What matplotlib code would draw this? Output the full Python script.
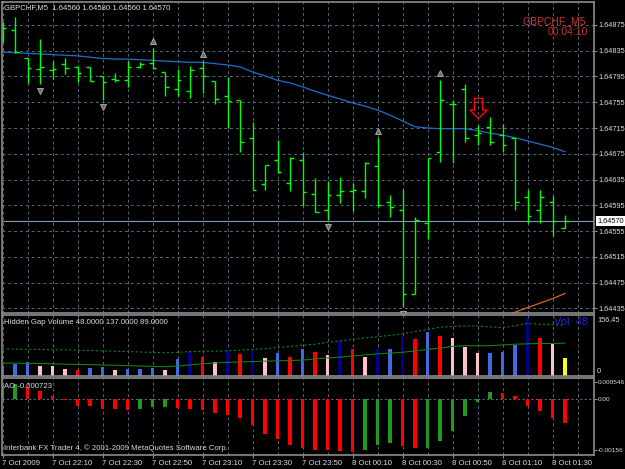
import numpy as np
import matplotlib
matplotlib.use("Agg")
import matplotlib.pyplot as plt
from matplotlib.path import Path
from matplotlib.transforms import offset_copy

# --- GBPCHF M5 bars, 7 Oct 2009 21:50 .. 8 Oct 2009 01:35 ---
opens = [1.64855, 1.64867, 1.64823, 1.64806, 1.64805, 1.64814, 1.64810, 1.64809, 1.64795, 1.64791,
         1.64789, 1.64810, 1.64816, 1.64802, 1.64775, 1.64772, 1.64808, 1.64788, 1.64764, 1.64758,
         1.64699, 1.64628, 1.64665, 1.64630, 1.64666, 1.64612, 1.64588, 1.64611, 1.64617, 1.64617,
         1.64656, 1.64600, 1.64588, 1.64457, 1.64568, 1.64678, 1.64752, 1.64775, 1.64704, 1.64716,
         1.64704, 1.64699, 1.64608, 1.64588, 1.64600, 1.64560]
highs = [1.64880, 1.64887, 1.64823, 1.64854, 1.64819, 1.64823, 1.64811, 1.64809, 1.64795, 1.64801,
         1.64819, 1.64818, 1.64839, 1.64802, 1.64807, 1.64811, 1.64819, 1.64788, 1.64794, 1.64758,
         1.64724, 1.64658, 1.64696, 1.64670, 1.64678, 1.64638, 1.64632, 1.64639, 1.64629, 1.64662,
         1.64700, 1.64611, 1.64621, 1.64577, 1.64669, 1.64789, 1.64759, 1.64783, 1.64720, 1.64732,
         1.64722, 1.64699, 1.64618, 1.64618, 1.64609, 1.64580]
lows = [1.64849, 1.64832, 1.64785, 1.64783, 1.64791, 1.64799, 1.64787, 1.64788, 1.64758, 1.64786,
        1.64778, 1.64808, 1.64807, 1.64764, 1.64764, 1.64762, 1.64770, 1.64752, 1.64715, 1.64678,
        1.64618, 1.64618, 1.64645, 1.64617, 1.64594, 1.64584, 1.64572, 1.64599, 1.64586, 1.64606,
        1.64592, 1.64577, 1.64437, 1.64457, 1.64542, 1.64662, 1.64660, 1.64694, 1.64688, 1.64688,
        1.64678, 1.64588, 1.64568, 1.64568, 1.64547, 1.64560]
closes = [1.64870, 1.64833, 1.64808, 1.64809, 1.64806, 1.64808, 1.64801, 1.64788, 1.64787, 1.64789,
          1.64810, 1.64815, 1.64808, 1.64778, 1.64789, 1.64805, 1.64795, 1.64760, 1.64757, 1.64694,
          1.64619, 1.64658, 1.64646, 1.64669, 1.64616, 1.64585, 1.64611, 1.64617, 1.64619, 1.64660,
          1.64595, 1.64593, 1.64457, 1.64572, 1.64669, 1.64759, 1.64753, 1.64700, 1.64708, 1.64694,
          1.64689, 1.64600, 1.64578, 1.64608, 1.64570, 1.64570]

# moving averages on the price chart
ma_blue = [1.64833, 1.64832, 1.64831, 1.64830, 1.64829, 1.64828, 1.64827, 1.64825, 1.64823, 1.64822,
           1.64822, 1.64821, 1.64820, 1.64819, 1.64818, 1.64817, 1.64817, 1.64815, 1.64813, 1.64810,
           1.64802, 1.64796, 1.64789, 1.64785, 1.64779, 1.64772, 1.64766, 1.64760, 1.64754, 1.64749,
           1.64743, 1.64735, 1.64726, 1.64717, 1.64715, 1.64714, 1.64714, 1.64714, 1.64711, 1.64707,
           1.64704, 1.64700, 1.64695, 1.64690, 1.64685, 1.64678]
ma_orange_first_bar = 40
ma_orange = [1.64422, 1.64429, 1.64436, 1.64443, 1.64450, 1.64458]

# fractals and signal arrow (bar numbers)
up_fractals = [12, 16, 30, 35]
down_fractals = [3, 8, 26, 32]
sell_signal_bar = 38

# Hidden Gap Volume window
volumes = [27, 33, 37, 28, 28, 18, 16, 21, 25, 15,
           19, 19, 22, 15, 46, 64, 51, 37, 70, 60,
           70, 48, 62, 51, 72, 66, 57, 95, 72, 51,
           72, 72, 109, 100, 118, 108, 102, 79, 62, 63,
           66, 84, 156, 102, 86, 48]
vol_colors = ['blue', 'blue', 'blue', 'pink', 'pink', 'pink', 'red', 'blue', 'blue', 'pink',
              'blue', 'blue', 'blue', 'pink', 'blue', 'navy', 'red', 'pink', 'navy', 'red',
              'navy', 'pink', 'blue', 'red', 'blue', 'red', 'pink', 'navy', 'red', 'pink',
              'navy', 'blue', 'navy', 'red', 'blue', 'red', 'pink', 'pink', 'pink', 'blue',
              'blue', 'blue', 'navy', 'red', 'pink', 'yellow']
vol_ma_fast = [73, 73, 72, 72, 71, 71, 70, 69, 68, 67,
               66, 65, 64, 63, 64, 66, 67, 67, 68, 70,
               72, 74, 77, 80, 83, 86, 91, 95, 99, 103,
               106, 110, 114, 120, 126, 132, 134, 135, 135, 133,
               131, 136, 142, 140, 139, 137]
vol_ma_slow = [35, 35, 34, 34, 33, 32, 31, 31, 30, 29,
               28, 27, 26, 25, 27, 30, 33, 35, 37, 38,
               39, 40, 41, 42, 43, 46, 49, 51, 54, 57,
               60, 62, 64, 68, 72, 75, 80, 82, 82, 82,
               84, 86, 87, 88, 88, 89]
vol_scale_max = 156.45

# Awesome Oscillator window
ao_values = [0.00043, 0.00047, 0.00037, 0.00024, 0.00010, -0.00003, -0.00020, -0.00021, -0.00030, -0.00031,
             -0.00033, -0.00030, -0.00025, -0.00023, -0.00026, -0.00030, -0.00032, -0.00041, -0.00048, -0.00057,
             -0.00079, -0.00108, -0.00123, -0.00141, -0.00151, -0.00156, -0.00157, -0.00160, -0.00162, -0.00156,
             -0.00140, -0.00133, -0.00144, -0.00151, -0.00149, -0.00127, -0.00097, -0.00050, -0.00007, 0.00021,
             0.00020, 0.00010, -0.00021, -0.00036, -0.00057, -0.000723]
ao_ticks = [0.000546, 0.0, -0.00156]
ao_tick_labels = ['0.000546', '0.00', '-0.00156']

# axis labels
price_levels = [1.64875, 1.64835, 1.64795, 1.64755, 1.64715, 1.64675,
                1.64635, 1.64595, 1.64555, 1.64515, 1.64475, 1.64435]
time_label_bars = [0, 4, 8, 12, 16, 20, 24, 28, 32, 36, 40, 44]
time_labels = ['7 Oct 2009', '7 Oct 22:10', '7 Oct 22:30', '7 Oct 22:50', '7 Oct 23:10', '7 Oct 23:30',
               '7 Oct 23:50', '8 Oct 00:10', '8 Oct 00:30', '8 Oct 00:50', '8 Oct 01:10', '8 Oct 01:30']

# --- style ---
BG = 'black'
FG = '#dcdcdc'
GRID = '#56687a'
BORDER = '#8c8c8c'
BAR_GREEN = '#00ff00'
VOL_PALETTE = {'blue': '#4169e1', 'navy': '#00008b', 'red': '#ff0000',
               'pink': '#ffc0cb', 'yellow': '#ffff00'}
FS = 5.6        # window texts
FS_SCALE = 5.3  # right price scale
W, H = 625, 469

plt.rcParams['font.family'] = ['Liberation Sans', 'DejaVu Sans']

fig = plt.figure(figsize=(W / 100, H / 100), dpi=100, facecolor=BG)


def px_axes(x0, y0, x1, y1):
    # place an axes by pixel box (top-left origin)
    return fig.add_axes([x0 / W, 1 - y1 / H, (x1 - x0) / W, (y1 - y0) / H])


ax = px_axes(2, 2, 594, 313)
ax_vol = px_axes(2, 315, 594, 376)
ax_ao = px_axes(2, 378, 594, 455)

n = len(closes)
idx = np.arange(n)

for a in (ax, ax_vol, ax_ao):
    a.set_facecolor(BG)
    a.set_xlim(-0.04, 47.32)
    for s in a.spines.values():
        s.set_color(BORDER)
        s.set_linewidth(1.2)
    a.tick_params(colors=BORDER, labelcolor=FG, labelsize=FS_SCALE, length=2, width=0.8, pad=1)
    a.tick_params(axis='y', left=False, labelleft=False, right=True, labelright=True)
    a.tick_params(axis='x', bottom=False, labelbottom=False)
    for g in range(0, 48, 2):
        a.axvline(g, color=GRID, ls=(0, (3, 3)), lw=0.7, zorder=0)

# --- price chart ---
ax.set_ylim(1.644277, 1.649107)
for p in price_levels:
    ax.axhline(p, color=GRID, ls=(0, (3, 3)), lw=0.7, zorder=0)
ax.set_yticks(price_levels)
ax.set_yticklabels([f'{p:.5f}' for p in price_levels])

ax.axhline(closes[-1], color='#7d9cba', lw=0.8, zorder=1)
ax.plot(idx, ma_blue, color='#1f6fcf', lw=0.9, zorder=2)
ax.plot(idx[ma_orange_first_bar:], ma_orange, color='#d2691e', lw=0.9, zorder=2)

tick = 0.3
ax.vlines(idx, lows, highs, colors=BAR_GREEN, lw=1.0, zorder=3)
ax.hlines(opens, idx - tick, idx, colors=BAR_GREEN, lw=1.0, zorder=3)
ax.hlines(closes, idx, idx + tick, colors=BAR_GREEN, lw=1.0, zorder=3)

up_tr = offset_copy(ax.transData, fig=fig, y=5, units='points')
dn_tr = offset_copy(ax.transData, fig=fig, y=-5, units='points')
ax.plot(up_fractals, [highs[i] for i in up_fractals], ls='none', marker='^', ms=5,
        mfc='#6a6a6a', mec='#b4b4b4', mew=0.6, transform=up_tr, zorder=4)
ax.plot(down_fractals, [lows[i] for i in down_fractals], ls='none', marker='v', ms=5,
        mfc='#6a6a6a', mec='#b4b4b4', mew=0.6, transform=dn_tr, zorder=4, clip_on=False)

arrow_verts = [(-0.4, 1), (0.4, 1), (0.4, -0.15), (0.85, -0.15), (0, -1),
               (-0.85, -0.15), (-0.4, -0.15), (-0.4, 1)]
arrow_codes = [Path.MOVETO] + [Path.LINETO] * 6 + [Path.CLOSEPOLY]
arrow_marker = Path(arrow_verts, arrow_codes)
sig_tr = offset_copy(ax.transData, fig=fig, y=12, units='points')
ax.plot([sell_signal_bar], [highs[sell_signal_bar]], ls='none', marker=arrow_marker, ms=14.5,
        mfc='none', mec='red', mew=1.0, transform=sig_tr, zorder=5)

ax.annotate(f'GBPCHF,M5  {opens[-1]:.5f} {highs[-1]:.5f} {lows[-1]:.5f} {closes[-1]:.5f}',
            xy=(0, 1), xycoords='axes fraction', xytext=(2, -6), textcoords='offset pixels',
            ha='left', va='center', fontsize=FS, color=FG)
ax.annotate('GBPCHF_M5', xy=(1, 1), xycoords='axes fraction', xytext=(-8, -18.7),
            textcoords='offset pixels', ha='right', va='center', fontsize=7.5, color='#c8342a')
ax.annotate('00:04:10', xy=(1, 1), xycoords='axes fraction', xytext=(-6, -30.3),
            textcoords='offset pixels', ha='right', va='center', fontsize=7.5, color='#c8342a')
ax.annotate(f'{closes[-1]:.5f}', xy=(1, closes[-1]), xycoords=('axes fraction', 'data'),
            xytext=(3, 0), textcoords='offset pixels', ha='left', va='center', fontsize=FS_SCALE,
            color='black', annotation_clip=False,
            bbox=dict(boxstyle='square,pad=0.2', fc='white', ec='none'))

# --- volume window ---
ax_vol.set_ylim(0, 165)
ax_vol.set_yticks([])
ax_vol.bar(idx, volumes, width=0.3, color=[VOL_PALETTE[c] for c in vol_colors], zorder=2)
ax_vol.plot(idx, vol_ma_fast, color='#138013', ls=(0, (2, 2)), lw=0.8, zorder=3)
ax_vol.plot(idx, vol_ma_slow, color='#138013', lw=0.8, zorder=3)
ax_vol.annotate(f'Hidden Gap Volume {volumes[-1]:.4f} {vol_ma_fast[-1]:.4f} {vol_ma_slow[-1]:.4f}',
                xy=(0, 1), xycoords='axes fraction', xytext=(2, -7.7), textcoords='offset pixels',
                ha='left', va='center', fontsize=FS, color=FG)
ax_vol.annotate(f'Vol  {volumes[-1]}', xy=(1, 1), xycoords='axes fraction', xytext=(-6, -7),
                textcoords='offset pixels', ha='right', va='center', fontsize=8, color='#2424d8')
ax_vol.annotate(f'{vol_scale_max:.2f}', xy=(1, 1), xycoords='axes fraction', xytext=(3, -5),
                textcoords='offset pixels', ha='left', va='center', fontsize=FS_SCALE, color=FG,
                annotation_clip=False)
ax_vol.annotate('0', xy=(1, 0), xycoords='axes fraction', xytext=(3, 4.3),
                textcoords='offset pixels', ha='left', va='center', fontsize=FS_SCALE, color=FG,
                annotation_clip=False)

# --- AO window ---
ao = np.array(ao_values)
ao_rising = np.concatenate([[True], np.diff(ao) > 0])
ao_colors = np.where(ao_rising, '#1f9a1f', '#ff0000')
ax_ao.set_ylim(-0.001714, 0.000655)
ax_ao.axhline(0, color=GRID, ls=(0, (2, 2)), lw=0.8, zorder=1)
ax_ao.bar(idx, ao, width=0.25, color=ao_colors, zorder=2)
ax_ao.set_yticks(ao_ticks)
ax_ao.set_yticklabels(ao_tick_labels)
ax_ao.tick_params(axis='y', labelsize=4.6, pad=0.6)
ax_ao.tick_params(axis='x', bottom=True, labelbottom=True, length=2, pad=1.5, labelsize=FS)
ax_ao.set_xticks(time_label_bars)
ax_ao.set_xticklabels(time_labels, ha='left')
ax_ao.annotate(f'AO {ao_values[-1]:.6f}', xy=(0, 1), xycoords='axes fraction', xytext=(2, -8.7),
               textcoords='offset pixels', ha='left', va='center', fontsize=FS, color=FG)
ax_ao.annotate('Interbank FX Trader 4, \u00a9 2001-2009 MetaQuotes Software Corp.',
               xy=(0, 0), xycoords='axes fraction', xytext=(2, 7.3), textcoords='offset pixels',
               ha='left', va='center', fontsize=FS, color=FG)

fig.savefig('out.png', dpi=100, facecolor=BG)
